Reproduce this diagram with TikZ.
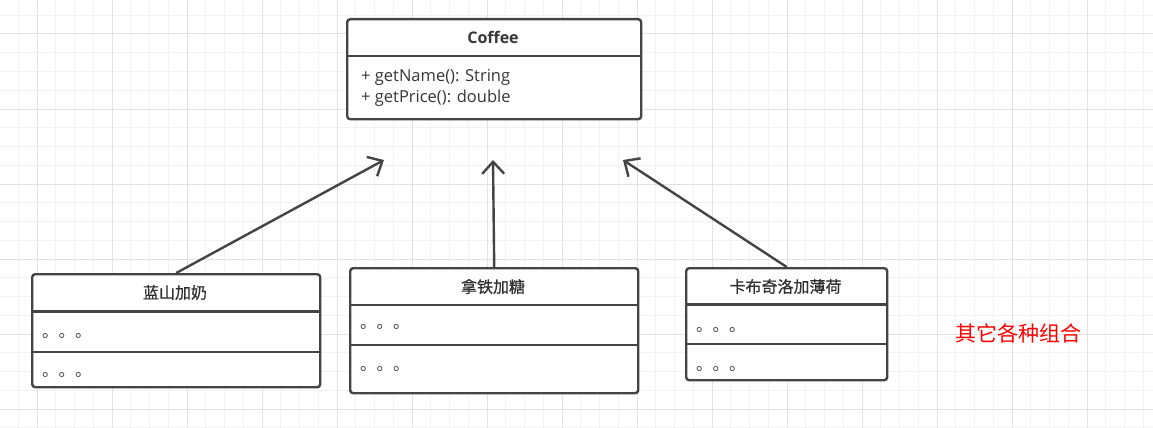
\documentclass[tikz,border=0pt]{standalone}
\usepackage{fontspec}
\setmainfont{Open Sans}
\newfontfamily\cjk{Noto Sans CJK SC}
\newfontfamily\cjkmed[FakeBold=0.7]{Noto Sans CJK SC}
\usetikzlibrary{arrows.meta}
\definecolor{ink}{HTML}{444444}
\definecolor{gminor}{HTML}{F2F2F2}
\definecolor{gmajor}{HTML}{E2E2E2}
\tikzset{
  umlbox/.style={draw=ink, line width=2.4pt, rounded corners=3pt, fill=white, inner sep=0pt, anchor=north west},
  divider/.style={draw=ink, line width=2.4pt},
  title/.style={font=\fontsize{16}{18}\selectfont\bfseries, text=ink!80!black, inner sep=0pt},
  cjktitle/.style={font=\cjkmed\fontsize{16}{18}\selectfont, text=ink!70!black, inner sep=0pt},
  member/.style={font=\fontsize{16.5}{21.5}\selectfont, text=ink!80!black, inner sep=0pt, anchor=west, align=left},
  dots/.style={font=\cjk\fontsize{16.5}{18}\selectfont, text=ink, inner sep=0pt, anchor=west},
  inherit/.style={draw=ink, line width=2.4pt, -{Straight Barb[length=12pt,width=22pt]}},
}
\begin{document}
\begin{tikzpicture}[x=1pt,y=-1pt]
\useasboundingbox (0,0) rectangle (1153,428);
\fill[white] (0,0) rectangle (1153,428);
% grid
\foreach \i in {-1,...,60} {
  \draw[gminor, line width=1pt] ({37+18.75*\i},0) -- ({37+18.75*\i},428);
}
\foreach \j in {-1,...,21} {
  \draw[gminor, line width=1pt] (0,{34+18.75*\j}) -- (1153,{34+18.75*\j});
}
\foreach \i in {0,...,15} {
  \draw[gmajor, line width=1pt] ({37+75*\i},0) -- ({37+75*\i},428);
}
\foreach \j in {0,...,5} {
  \draw[gmajor, line width=1pt] (0,{34+75*\j}) -- (1153,{34+75*\j});
}
% Coffee
\node[umlbox, minimum width=294pt, minimum height=100pt] (coffee) at (346,18) {};
\draw[divider] (346,56) -- (640,56);
\node[title] (coffeeT) at (493,37.5) {Coffee};
\node[member] (coffeeM) at (361,88) {+ getName(): String\\+ getPrice(): double};
% Box 1
\node[umlbox, minimum width=288pt, minimum height=113pt] (b1) at (31,273) {};
\draw[divider] (31,311.5) -- (319,311.5);
\draw[divider] (31,352) -- (319,352);
\node[cjktitle] (b1T) at (175,292.5) {蓝山加奶};
\node[dots] (b1a) at (42,336) {。。。};
\node[dots] (b1b) at (42,375) {。。。};
% Box 2
\node[umlbox, minimum width=288pt, minimum height=125pt] (b2) at (349,267) {};
\draw[divider] (349,305) -- (637,305);
\node[cjktitle] (b2T) at (493,286.5) {拿铁加糖};
\draw[divider] (349,345) -- (637,345);
\node[dots] (b2a) at (360,327) {。。。};
\node[dots] (b2b) at (360,369) {。。。};
% Box 3
\node[umlbox, minimum width=201pt, minimum height=112pt] (b3) at (685,267) {};
\draw[divider] (685,304.5) -- (886,304.5);
\draw[divider] (685,344) -- (886,344);
\node[cjktitle] (b3T) at (785.5,286.5) {卡布奇洛加薄荷};
\node[dots] (b3a) at (696,330) {。。。};
\node[dots] (b3b) at (696,369) {。。。};
% arrow targets
\coordinate (t1) at (384,160);
\coordinate (t2) at (493,160);
\coordinate (t3) at (623,160);
\draw[inherit] (b1.north) -- (t1);
\draw[inherit] (b2.north) -- (t2);
\draw[inherit] (b3.north) -- (t3);
% note
\node[font=\cjk\fontsize{21}{24}\selectfont, text=red, inner sep=0pt, anchor=west] (note) at (955,333) {其它各种组合};
\end{tikzpicture}
\end{document}
